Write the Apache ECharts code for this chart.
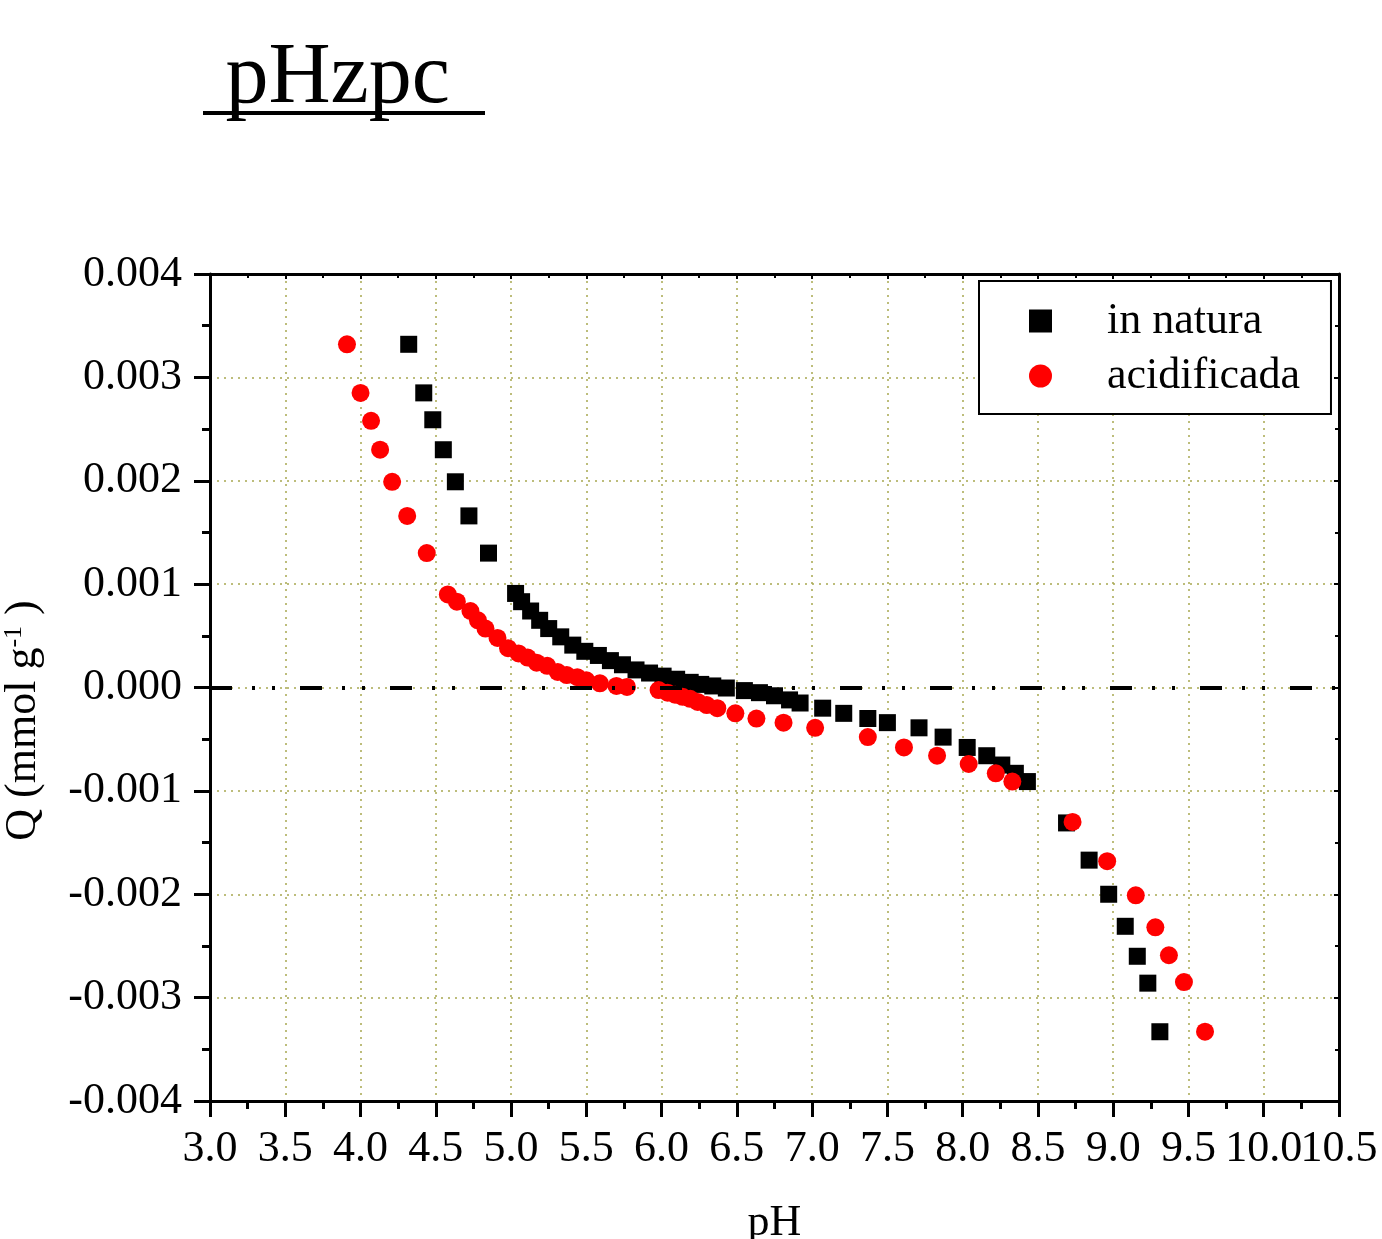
<!DOCTYPE html>
<html>
<head>
<meta charset="utf-8">
<script src="https://cdn.jsdelivr.net/npm/echarts@6.0.0/dist/echarts.min.js"></script>
<style>
  html, body { margin: 0; padding: 0; background: #fff; }
  #main { width: 1382px; height: 1239px; }
</style>
</head>
<body>
<div id="main"></div>
<script>
// pH / Q
var phNatura = [4.32, 4.42, 4.48, 4.55, 4.63, 4.72, 4.85, 5.03, 5.07, 5.13, 5.19, 5.25, 5.33, 5.41, 5.49, 5.58,
  5.66, 5.74, 5.83, 5.92, 6.01, 6.10, 6.19, 6.26, 6.34, 6.43, 6.55, 6.65, 6.75, 6.85, 6.92, 7.07, 7.21, 7.37,
  7.50, 7.71, 7.87, 8.03, 8.16, 8.26, 8.35, 8.43, 8.69, 8.84, 8.97, 9.08, 9.16, 9.23, 9.31];
var qNatura = [0.00332, 0.00285, 0.00259, 0.00230, 0.00199, 0.00166, 0.00130, 0.00091, 0.00083, 0.00074, 0.00065,
  0.00057, 0.00049, 0.00041, 0.00035, 0.00031, 0.00026, 0.00022, 0.00017, 0.00014, 0.00011, 0.00008, 0.00005,
  0.00003, 0.000015, -0.000005, -0.00003, -0.00005, -0.00008, -0.00012, -0.00015, -0.00020, -0.00025, -0.00030,
  -0.00034, -0.00039, -0.00048, -0.00058, -0.00066, -0.00075, -0.00083, -0.00091, -0.00131, -0.00167, -0.00200,
  -0.00231, -0.00260, -0.00286, -0.00333];

var phAcid = [3.91, 4.00, 4.07, 4.13, 4.21, 4.31, 4.44, 4.58, 4.64, 4.73, 4.78, 4.83, 4.91, 4.98, 5.05, 5.11,
  5.17, 5.24, 5.31, 5.37, 5.44, 5.50, 5.59, 5.70, 5.77, 5.98, 6.04, 6.09, 6.14, 6.19, 6.24, 6.30, 6.37, 6.49,
  6.63, 6.81, 7.02, 7.37, 7.61, 7.83, 8.04, 8.22, 8.33, 8.73, 8.96, 9.15, 9.28, 9.37, 9.47, 9.61];
var qAcid = [0.00332, 0.00285, 0.00258, 0.00230, 0.00199, 0.00166, 0.00130, 0.00090, 0.00083, 0.00074, 0.00065,
  0.00057, 0.00048, 0.00038, 0.00033, 0.00029, 0.00024, 0.00021, 0.00015, 0.00012, 0.00010, 0.00007, 0.00004,
  0.000015, 0.000005, -0.000025, -0.00005, -0.00007, -0.00009, -0.00011, -0.00014, -0.00017, -0.00020, -0.00025,
  -0.00030, -0.00034, -0.00039, -0.00048, -0.00058, -0.00066, -0.00074, -0.00083, -0.00091, -0.00130, -0.00168,
  -0.00201, -0.00232, -0.00259, -0.00285, -0.00333];

var seriesNames = ['in natura', 'acidificada'];

var font = 'Liberation Serif';
var gridColor = '#a8a850';

function pairs(xs, ys) {
  return xs.map(function (x, i) { return [x, ys[i]]; });
}

var chart = echarts.init(document.getElementById('main'));

var xLabelStyle = { margin: 26, fontFamily: font, fontSize: 44, color: '#000', hideOverlap: false };

var option = {
  animation: false,
  backgroundColor: '#fff',
  title: {
    text: ' pHzpc ',
    left: 199,
    top: 31,
    textStyle: { fontFamily: font, fontSize: 86, fontWeight: 'normal', color: '#000' }
  },
  graphic: [
    // underline of the title
    { type: 'line', shape: { x1: 203, y1: 113, x2: 485, y2: 113 }, style: { stroke: '#000', lineWidth: 4 } }
  ],
  legend: {
    orient: 'vertical',
    left: 979,
    top: 281,
    padding: [18, 31, 16, 50],
    itemGap: 11,
    itemWidth: 23,
    itemHeight: 23,
    borderColor: '#000',
    borderWidth: 2,
    backgroundColor: '#fff',
    textStyle: { fontFamily: font, fontSize: 44, color: '#000', padding: [0, 0, 0, 50] },
    data: seriesNames
  },
  grid: { left: 210, right: 43, top: 274, bottom: 138, outerBoundsMode: 'none', containLabel: false },
  xAxis: [{
    type: 'value',
    min: 3, max: 10.5, interval: 0.5,
    name: 'pH',
    nameLocation: 'middle',
    nameGap: 100,
    nameTextStyle: { fontFamily: font, fontSize: 44, color: '#000' },
    axisLine: { show: true, onZero: false, lineStyle: { color: '#000', width: 3 } },
    axisTick: { show: true, inside: false, length: 16, lineStyle: { color: '#000', width: 3 } },
    minorTick: { show: true, splitNumber: 2, length: 8, lineStyle: { color: '#000', width: 3 } },
    axisLabel: Object.assign({}, xLabelStyle, {
      showMinLabel: true, showMaxLabel: true,
      // 10.0 is drawn by the helper axis below, it touches 10.5
      formatter: function (v) { return Math.abs(v - 10) < 1e-9 ? '' : v.toFixed(1); }
    }),
    splitLine: { show: true, lineStyle: { color: gridColor, width: 1.5, type: [2, 5] } }
  }, {
    type: 'value',
    position: 'top',
    min: 3, max: 10.5, interval: 0.5,
    axisLine: { show: true, onZero: false, lineStyle: { color: '#000', width: 3 } },
    axisTick: { show: true, inside: true, length: 5, lineStyle: { color: '#000', width: 2 } },
    minorTick: { show: true, splitNumber: 2, length: 4, lineStyle: { color: '#000', width: 2 } },
    axisLabel: { show: false },
    splitLine: { show: false }
  }, {
    type: 'value',
    position: 'bottom',
    min: 3, max: 10.5, interval: 0.5,
    axisLine: { show: false, onZero: false },
    axisTick: { show: false },
    axisLabel: Object.assign({}, xLabelStyle, {
      showMinLabel: false, showMaxLabel: false,
      formatter: function (v) { return Math.abs(v - 10) < 1e-9 ? v.toFixed(1) : ''; }
    }),
    splitLine: { show: false }
  }],
  yAxis: [{
    type: 'value',
    min: -0.004, max: 0.004, interval: 0.001,
    name: 'Q (mmol g{sup|-1} )',
    nameLocation: 'middle',
    nameRotate: 90,
    nameGap: 165,
    nameTextStyle: {
      fontFamily: font, fontSize: 44, color: '#000', padding: [0, 66, 0, 0],
      rich: { sup: { fontFamily: font, fontSize: 26, color: '#000', verticalAlign: 'top' } }
    },
    axisLine: { show: true, onZero: false, lineStyle: { color: '#000', width: 3 } },
    axisTick: { show: true, inside: false, length: 16, lineStyle: { color: '#000', width: 3 } },
    minorTick: { show: true, splitNumber: 2, length: 8, lineStyle: { color: '#000', width: 3 } },
    axisLabel: {
      margin: 28, fontFamily: font, fontSize: 44, color: '#000',
      showMinLabel: true, showMaxLabel: true,
      formatter: function (v) { return (Math.abs(v) < 1e-9 ? 0 : v).toFixed(3); }
    },
    splitLine: { show: true, lineStyle: { color: gridColor, width: 1.5, type: [2, 5] } }
  }, {
    type: 'value',
    position: 'right',
    min: -0.004, max: 0.004, interval: 0.001,
    axisLine: { show: true, onZero: false, lineStyle: { color: '#000', width: 3 } },
    axisTick: { show: true, inside: true, length: 5, lineStyle: { color: '#000', width: 2 } },
    minorTick: { show: true, splitNumber: 2, length: 4, lineStyle: { color: '#000', width: 2 } },
    axisLabel: { show: false },
    splitLine: { show: false }
  }],
  series: [{
    name: seriesNames[0],
    type: 'scatter',
    symbol: 'rect',
    symbolSize: 17,
    itemStyle: { color: '#000', opacity: 1 },
    data: pairs(phNatura, qNatura),
    markLine: {
      silent: true,
      symbol: 'none',
      label: { show: false },
      lineStyle: { color: '#000', width: 4, type: [22, 20, 3, 17, 3, 25] },
      data: [{ yAxis: 0 }]
    }
  }, {
    name: seriesNames[1],
    type: 'scatter',
    symbol: 'circle',
    symbolSize: 18,
    itemStyle: { color: '#ff0000', opacity: 1 },
    data: pairs(phAcid, qAcid)
  }]
};

chart.setOption(option);
</script>
</body>
</html>
